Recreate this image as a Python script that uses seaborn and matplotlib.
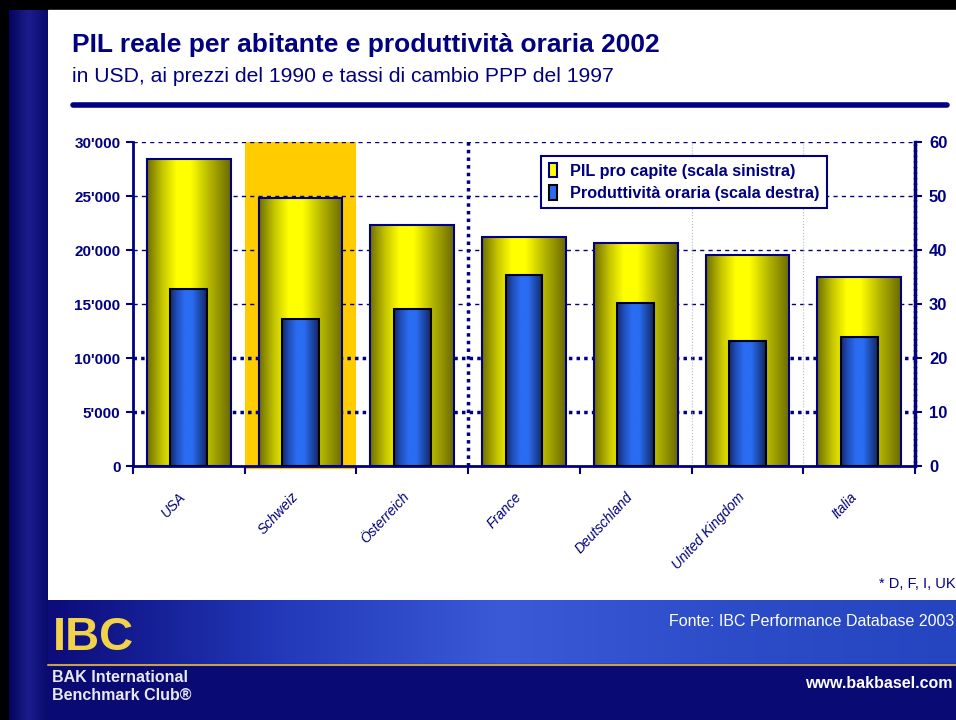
import numpy as np
import pandas as pd
import matplotlib
matplotlib.use('Agg')
import matplotlib.pyplot as plt
import seaborn as sns
from matplotlib import font_manager
from matplotlib.colors import LinearSegmentedColormap
from matplotlib.patches import Rectangle, Patch
from matplotlib.transforms import ScaledTranslation

# dati
paesi = ['USA', 'Schweiz', 'Österreich', 'France', 'Deutschland', 'United Kingdom', 'Italia']
pil_pro_capite = [28450, 24800, 22300, 21200, 20650, 19550, 17500]
produttivita = [32.8, 27.2, 29.1, 35.4, 30.2, 23.1, 23.9]
tick_sx = [0, 5000, 10000, 15000, 20000, 25000, 30000]
label_sx = ["0", "5'000", "10'000", "15'000", "20'000", "25'000", "30'000"]
tick_dx = [0, 10, 20, 30, 40, 50, 60]

df = pd.DataFrame({'paese': paesi, 'pil': pil_pro_capite, 'prod': produttivita})

navy = '#000080'

sns.set_theme(style='white')
names = {f.name for f in font_manager.fontManager.ttflist}
font = 'Liberation Sans' if 'Liberation Sans' in names else 'DejaVu Sans'
plt.rcParams['font.family'] = [font, 'DejaVu Sans']

fig = plt.figure(figsize=(9.56, 7.2), dpi=100)

# sfondo della slide, in pixel
bg = fig.add_axes([0, 0, 1, 1])
bg.set_xlim(0, 956)
bg.set_ylim(720, 0)
bg.axis('off')
bg.add_patch(Rectangle((0, 0), 956, 720, color='black', zorder=0))
bg.add_patch(Rectangle((48, 10), 908, 590, color='white', zorder=1))
strip = LinearSegmentedColormap.from_list('strip', ['#05055e', '#1c1c8c', '#0a0a6e'])
bg.imshow(np.linspace(0, 1, 64).reshape(1, -1), cmap=strip, extent=[9, 48, 720, 10],
          aspect='auto', zorder=1)
banner = LinearSegmentedColormap.from_list('banner', ['#0c0c7a', '#2238b8', '#3a5ad8', '#2c4cc8', '#2444c0'])
bg.imshow(np.linspace(0, 1, 256).reshape(1, -1), cmap=banner, extent=[48, 956, 664, 600],
          aspect='auto', zorder=1)
bg.add_patch(Rectangle((48, 664), 908, 56, color='#0a0a74', zorder=1))
bg.plot([48, 956], [664.5, 664.5], color='#c8a048', lw=1.5, zorder=2)
bg.set_xlim(0, 956)
bg.set_ylim(720, 0)

bg.text(72, 45, 'PIL reale per abitante e produttività oraria 2002', fontsize=19,
        fontweight='bold', color=navy, va='center')
bg.text(72, 76, 'in USD, ai prezzi del 1990 e tassi di cambio PPP del 1997', fontsize=15.2,
        color=navy, va='center')
bg.plot([73, 947], [105, 105], color=navy, lw=4, solid_capstyle='round')
bg.text(956, 584, '* D, F, I, UK', fontsize=10.5, color=navy, ha='right', va='center')
bg.text(954, 622, 'Fonte: IBC Performance Database 2003', fontsize=11.5, color='white',
        ha='right', va='center', zorder=3)
bg.text(953, 683, 'www.bakbasel.com', fontsize=11.5, color='white', fontweight='bold',
        ha='right', va='center', zorder=3)
bg.text(53, 638, 'IBC', fontsize=34, color='#f2d24a', fontweight='bold', va='center', zorder=3)
bg.text(52, 677, 'BAK International', fontsize=11.5, color='#e8e8f0', fontweight='bold',
        va='center', zorder=3)
bg.text(52, 696, 'Benchmark Club®', fontsize=11.5, color='#e8e8f0', fontweight='bold',
        va='center', zorder=3)

# grafico
ax = fig.add_axes([133 / 956, 1 - 466 / 720, 782 / 956, 324 / 720])
ax.patch.set_alpha(0)
ax.axvspan(0.5, 1.5, ymin=-0.01, ymax=1, color='#ffcc00', zorder=0, clip_on=False, lw=0)

sns.barplot(data=df, x='paese', y='pil', ax=ax, width=0.75, color='#ffff00',
            edgecolor=navy, linewidth=1.5, saturation=1, zorder=3)
ax.set_xlim(-0.5, 6.5)
ax.set_ylim(0, 30000)

for t in tick_sx[1:]:
    if t <= 10000:
        ax.axhline(t, color=navy, lw=2.5, ls=(0, (1, 1.2)), zorder=1.5)
    else:
        ax.axhline(t, color=navy, lw=1, ls=(0, (3, 3)), zorder=1.5)
ax.axvline(2.5, color=navy, lw=2.5, ls=(0, (1, 1.2)), zorder=1.5)
ax.axvline(4.5, color='#b8b8c8', lw=0.8, ls=':', zorder=1.5)
ax.axvline(5.5, color='#b8b8c8', lw=0.8, ls=':', zorder=1.5)

giallo = LinearSegmentedColormap.from_list('giallo', [(0, '#6e6e00'), (0.18, '#c4c400'),
                                                     (0.35, '#ffff00'), (0.52, '#ffff00'),
                                                     (0.75, '#b4b400'), (1, '#6a6a00')])
blu = LinearSegmentedColormap.from_list('blu', [(0, '#16296a'), (0.2, '#2050c0'),
                                               (0.4, '#2a6cf2'), (0.6, '#2a6cf2'),
                                               (0.82, '#1c46a4'), (1, '#122660')])
grad = np.linspace(0, 1, 256).reshape(1, -1)


def sfuma(axis, bars, cmap):
    for bar in bars:
        x0, w, h = bar.get_x(), bar.get_width(), bar.get_height()
        im = axis.imshow(grad, cmap=cmap, extent=[x0, x0 + w, 0, h], aspect='auto',
                         zorder=bar.get_zorder() - 0.1)
        im.set_clip_path(bar)
        bar.set_facecolor('none')


sfuma(ax, ax.containers[0], giallo)
ax.set_xlim(-0.5, 6.5)
ax.set_ylim(0, 30000)

ax2 = ax.twinx()
ax2.patch.set_alpha(0)
sns.barplot(data=df, x='paese', y='prod', ax=ax2, width=0.33, color='#2a6cf2',
            edgecolor='black', linewidth=1.5, saturation=1, zorder=3)
sfuma(ax2, ax2.containers[0], blu)
ax2.set_xlim(-0.5, 6.5)
ax2.set_ylim(0, 60)

ax.set_xlabel('')
ax.set_ylabel('')
ax2.set_xlabel('')
ax2.set_ylabel('')

for s in ['top', 'right']:
    ax.spines[s].set_visible(False)
for s in ['top', 'left', 'bottom']:
    ax2.spines[s].set_visible(False)
ax.spines['left'].set_color(navy)
ax.spines['left'].set_linewidth(2)
ax.spines['bottom'].set_color(navy)
ax.spines['bottom'].set_linewidth(2)
ax2.spines['right'].set_color(navy)
ax2.spines['right'].set_linewidth(2.5)
ax2.spines['right'].set_linestyle((0, (1, 0.6)))

ax.set_yticks(tick_sx)
ax.set_yticklabels(label_sx, fontweight='bold', color=navy, fontsize=11)
ax.tick_params(axis='y', left=True, length=5, width=1.5, color=navy, pad=4)
ax2.set_yticks(tick_dx)
ax2.set_yticklabels([str(t) for t in tick_dx], fontweight='bold', color=navy, fontsize=12)
ax2.tick_params(axis='y', right=True, length=5, width=1.5, color=navy, pad=5)

ax.set_xticks(range(len(paesi)))
ax.set_xticks(np.arange(-0.5, len(paesi)), minor=True)
ax.set_xticklabels(paesi, rotation=47, ha='right', rotation_mode='anchor',
                   fontstyle='italic', color=navy, fontsize=10)
ax.tick_params(axis='x', which='major', bottom=False, length=0, pad=17)
ax.tick_params(axis='x', which='minor', bottom=True, length=6, width=1.5, color=navy)
for lab in ax.get_xticklabels():
    lab.set_transform(lab.get_transform() + ScaledTranslation(-0.1, 0, fig.dpi_scale_trans))

handles = [Patch(facecolor='#ffff00', edgecolor=navy, lw=1.5, label='PIL pro capite (scala sinistra)'),
           Patch(facecolor='#2a6cf2', edgecolor='black', lw=1.5, label='Produttività oraria (scala destra)')]
leg = ax2.legend(handles=handles, loc='upper left', bbox_to_anchor=(0.522, 0.958),
                 frameon=True, fancybox=False, shadow=False, borderpad=0.45,
                 handlelength=0.55, handleheight=1.0, handletextpad=0.8, labelspacing=0.4,
                 borderaxespad=0, prop={'weight': 'bold', 'size': 11.7})
leg.get_frame().set_edgecolor(navy)
leg.get_frame().set_linewidth(1.5)
leg.get_frame().set_alpha(1)
for t in leg.get_texts():
    t.set_color(navy)

fig.savefig('out.png', dpi=100)
